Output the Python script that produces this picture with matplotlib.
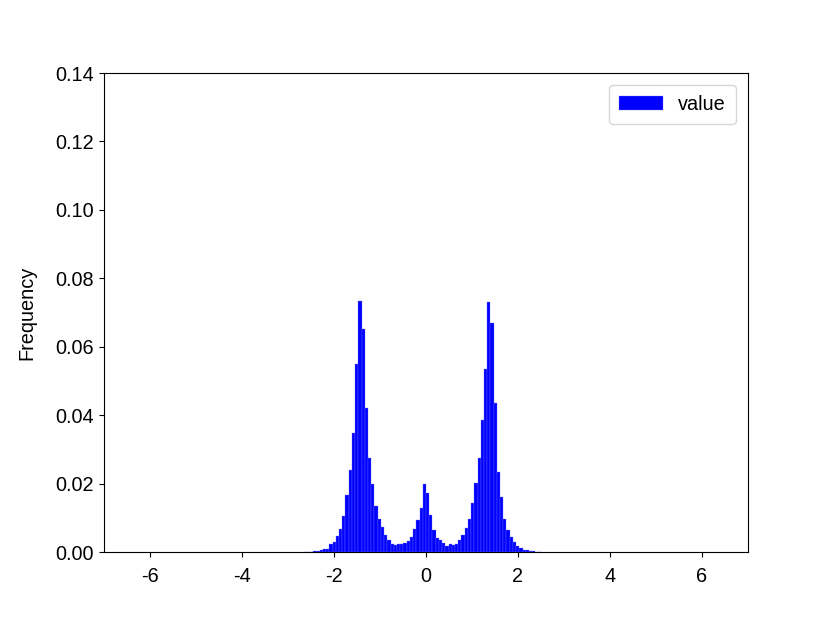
import matplotlib
matplotlib.use("Agg")
import matplotlib.pyplot as plt
import numpy as np

plt.rcParams['font.family'] = ['Liberation Sans', 'DejaVu Sans']
plt.rcParams['axes.unicode_minus'] = False
plt.rcParams['font.size'] = 14.3

# 200 bins between -7 and 7; nonzero bins start at index 62
bin_lo, bin_hi, n_bins = -7.0, 7.0, 200
first_bin = 62
freq = [
    0.0001, 0.0001, 0.0001, 0.0002, 0.0002, 0.0005, 0.0008, 0.0008,   # 62-69
    0.0022, 0.0028, 0.0047, 0.0067, 0.0106, 0.0168, 0.0240, 0.0347,   # 70-77
    0.0550, 0.0735, 0.0653, 0.0420, 0.0276, 0.0198, 0.0135, 0.0097,   # 78-85
    0.0072, 0.0049, 0.0035, 0.0023, 0.0020, 0.0022, 0.0023, 0.0025,   # 86-93
    0.0031, 0.0045, 0.0068, 0.0094, 0.0128, 0.0198, 0.0172, 0.0108,   # 94-101
    0.0064, 0.0040, 0.0034, 0.0025, 0.0019, 0.0023, 0.0020, 0.0022,   # 102-109
    0.0035, 0.0050, 0.0070, 0.0097, 0.0142, 0.0203, 0.0275, 0.0386,   # 110-117
    0.0534, 0.0730, 0.0668, 0.0437, 0.0235, 0.0160, 0.0097, 0.0064,   # 118-125
    0.0045, 0.0028, 0.0018, 0.0011, 0.0006, 0.0005, 0.0002, 0.0002,   # 126-133
    0.0001, 0.0001,                                                   # 134-135
]
series_name = "value"
x_ticks = [-6, -4, -2, 0, 2, 4, 6]
y_ticks = [0.00, 0.02, 0.04, 0.06, 0.08, 0.10, 0.12, 0.14]

edges = np.linspace(bin_lo, bin_hi, n_bins + 1)
lefts = edges[first_bin:first_bin + len(freq)]
width = edges[1] - edges[0]

fig, ax = plt.subplots(figsize=(8.3, 6.22), dpi=100)
fig.subplots_adjust(left=0.1253, right=0.9012, bottom=0.1125, top=0.8826)
ax.bar(lefts, freq, width=width, align='edge', color='blue',
       edgecolor='#7070ff', linewidth=0.25, label=series_name)
ax.set_xlim(bin_lo, bin_hi)
ax.set_ylim(0, 0.14)
ax.set_xticks(x_ticks)
ax.set_xticklabels([str(t) for t in x_ticks])
ax.set_yticks(y_ticks)
ax.set_yticklabels([f"{t:.2f}" for t in y_ticks])
ax.tick_params(axis='x', pad=7)
ax.tick_params(axis='y', pad=4)
ax.set_ylabel("Frequency", labelpad=13)
ax.legend(loc='upper right', borderaxespad=0.6, handlelength=2.2,
          borderpad=0.5)
fig.savefig("out.png", dpi=100)
